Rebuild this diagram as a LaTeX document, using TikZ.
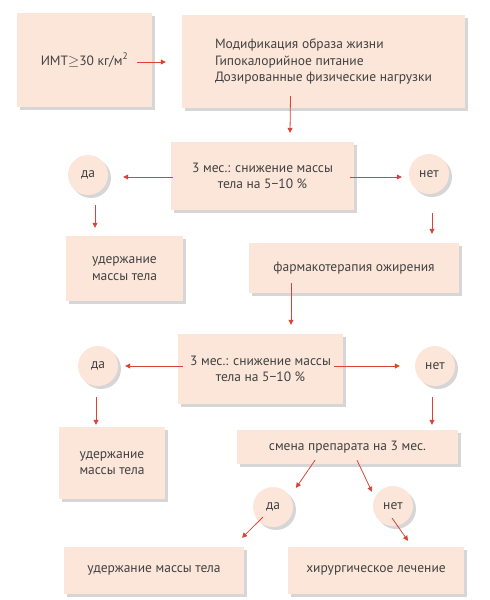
\documentclass[tikz,border=0pt]{standalone}
\usepackage{fontspec}
\setmainfont{PT Sans}
\usetikzlibrary{calc,shadows,arrows.meta}
\definecolor{boxfill}{RGB}{252,230,218}
\definecolor{arrowred}{RGB}{214,69,56}
\definecolor{textgray}{RGB}{65,65,65}

\begin{document}
\begin{tikzpicture}[x=1pt, y=-1pt, every node/.style={scale=1}]
        \pgfdeclarelayer{nodelayer}
        \pgfdeclarelayer{edgelayer}
        \pgfsetlayers{main,nodelayer,edgelayer}
        \tikzstyle{box}=[fill=boxfill, draw=none, shape=rectangle, inner sep=0pt, align=center,
            text=textgray, font=\fontsize{13.5}{16.5}\selectfont,
            drop shadow={shadow xshift=3pt, shadow yshift=-3pt, fill=black, opacity=0.16}]
        \tikzstyle{answer}=[style=box, shape=circle, minimum size=40pt]
        %\tikzstyle{arrow}=[-{Stealth[scale=1.2]}, thick]
        \tikzstyle{arrow}=[-{Triangle[length=5pt, width=5pt]}, draw=arrowred, line width=0.8pt]
        \useasboundingbox (0,0) rectangle (490,600);
        \begin{pgfonlayer}{nodelayer}
            \node [style=box, minimum width=135pt, minimum height=94pt] (0) at (84.5, 60) {ИМТ${\geq}$30 кг/м\textsuperscript{2}};
            \node [style=box, minimum width=283pt, minimum height=93pt, align=left] (1) at (323.5, 61.5) {Модификация образа жизни\\Гипокалорийное питание\\Дозированные физические нагрузки};
            \node [style=box, minimum width=183pt, minimum height=68pt] (2) at (262.5, 176) {3 мес.: снижение массы\\тела на 5−10 \%};
            \node [style=answer] (3) at (88, 175) {да};
            \node [style=answer] (4) at (429, 174) {нет};
            \node [style=box, minimum width=117pt, minimum height=65pt] (5) at (124.5, 268.5) {удержание\\массы тела};
            \node [style=box, minimum width=210pt, minimum height=50pt] (6) at (354, 268) {фармакотерапия ожирения};
            \node [style=box, minimum width=165pt, minimum height=70pt] (7) at (260.5, 369) {3 мес.: снижение массы\\тела на 5−10 \%};
            \node [style=answer] (8) at (98, 366) {да};
            \node [style=answer] (9) at (435, 366) {нет};
            \node [style=box, minimum width=106pt, minimum height=72pt] (10) at (112, 463) {удержание\\массы тела};
            \node [style=box, minimum width=221pt, minimum height=34pt] (11) at (347.5, 447) {смена препарата на 3 мес.};
            \node [style=answer] (12) at (273, 507) {да};
            \node [style=answer] (13) at (393, 506) {нет};
            \node [style=box, minimum width=180pt, minimum height=47pt] (14) at (154, 570.5) {удержание массы тела};
            \node [style=box, minimum width=176pt, minimum height=47pt] (15) at (376, 570.5) {хирургическое лечение};
        \end{pgfonlayer}
        \begin{pgfonlayer}{edgelayer}
            \draw [style=arrow] ($(0.east)+(-15,2)$) to ($(1.west)+(-16,0.5)$);
            \draw [style=arrow] ($(1.south)+(-33,-12)$) to ($(2.north)+(27.5,-9)$);
            \draw [style=arrow] ($(2.west)+(2,1)$) to ($(3.east)+(15,2)$);
            \draw [style=arrow] ($(2.east)+(-4,1)$) to ($(4.west)+(-7,3)$);
            \draw [style=arrow] ($(3.south)+(7,10)$) to ($(5.north)+(-29.5,-8)$);
            \draw [style=arrow] ($(4.south)+(3,19)$) to ($(6.north)+(78,-9)$);
            \draw [style=arrow] ($(6.south)+(-63,-10)$) to ($(7.north)+(30.5,-9)$);
            \draw [style=arrow] ($(7.west)+(5,-3)$) to ($(8.east)+(7,0)$);
            \draw [style=arrow] ($(7.east)+(-9,-3)$) to ($(9.west)+(-15,0)$);
            \draw [style=arrow] ($(8.south)+(-2,11)$) to ($(10.north)+(-16,-2)$);
            \draw [style=arrow] ($(9.south)+(-3,11)$) to ($(11.north)+(84.5,-5)$);
            \draw [style=arrow] ($(11.south)+(-32.5,-4)$) to ($(12.north)+(23,1)$);
            \draw [style=arrow] ($(11.south)+(9.5,-4)$) to ($(13.north)+(-21,6)$);
            \draw [style=arrow] ($(12.center)+(-10,10)$) to ($(14.north)+(88,-9)$);
            \draw [style=arrow] ($(13.center)+(-1,12)$) to ($(15.north)+(32,-6)$);
        \end{pgfonlayer}
    \end{tikzpicture}
\end{document}
